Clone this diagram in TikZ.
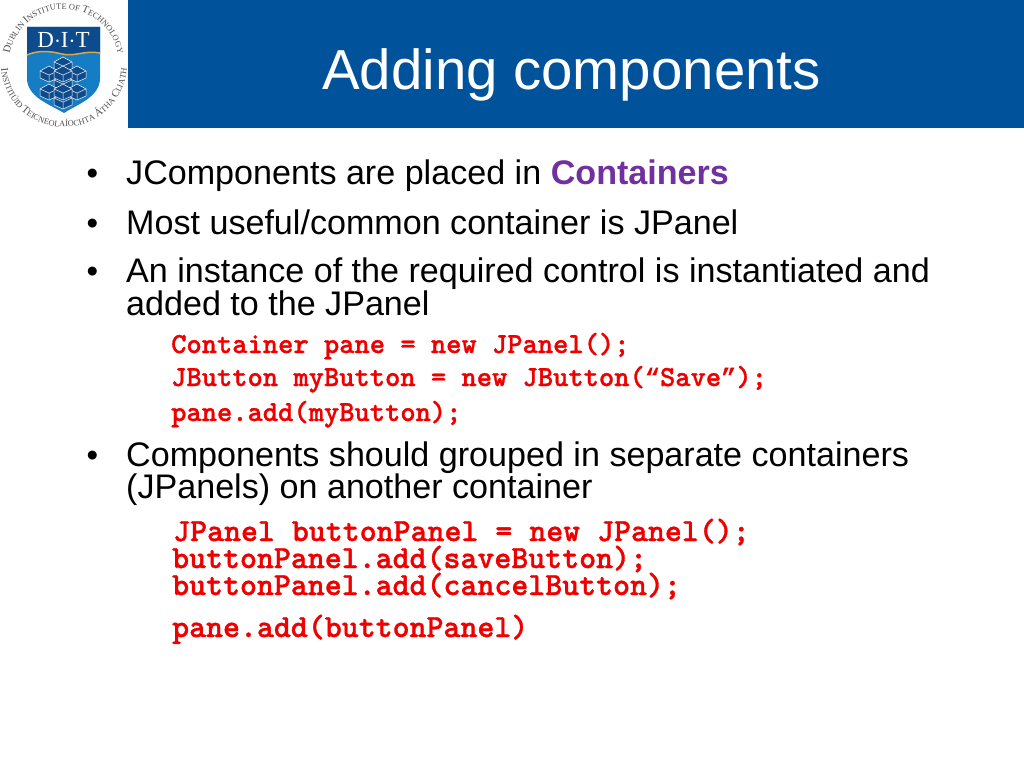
\documentclass[tikz,border=0pt]{standalone}
\usepackage{fontspec}
\setmainfont{Liberation Sans}
\newfontfamily\ringserif{Liberation Serif}
\newfontfamily\codefont{lmmonolt10-bold.otf}[FakeBold=1.1]
\newfontfamily\quotefont{Liberation Mono Bold}
\usepackage{xcolor}
\usetikzlibrary{calc,positioning,decorations.text}
\definecolor{barblue}{RGB}{0,83,155}
\definecolor{shielddark}{RGB}{14,75,140}
\definecolor{shieldlight}{RGB}{20,125,195}
\definecolor{goldline}{RGB}{214,170,80}
\definecolor{headword}{RGB}{112,48,160}
\definecolor{codered}{RGB}{238,0,0}
\newcommand{\ringfont}{\ringserif\fontsize{8.4}{8.4}\selectfont\color{black!70}}
\newcommand{\ringcap}{\ringserif\fontsize{10.5}{10.5}\selectfont\color{black!70}}
\tikzset{
  bullet/.style={anchor=base,inner sep=0pt,font=\fontsize{33}{33}\selectfont,text=black},
  body/.style={anchor=base west,inner sep=0pt,font=\fontsize{34.1}{34.1}\selectfont,text=black},
  code/.style={anchor=base west,inner sep=0pt,font=\codefont\fontsize{29.1}{29.1}\selectfont,text=codered},
  bigcode/.style={code,font=\codefont\fontsize{32.3}{32.3}\selectfont},
}
\begin{document}
\begin{tikzpicture}[x=1pt,y=-1pt]
  \useasboundingbox (0,0) rectangle (1024,768);
  \fill[barblue] (128,0) rectangle (1024,128);
  \node (title) at (322,89) [anchor=base west,inner sep=0pt,text=white,font=\fontsize{56.4}{56.4}\selectfont] {Adding components};
  % shield of the logo
  \fill[shieldlight] (27,27) -- (100,27) -- (100,78) .. controls (100,97) and (78,104) .. (64,113)
    .. controls (49,104) and (27,97) .. (27,78) -- cycle;
  \fill[shielddark] (27,27) -- (100,27) -- (100,53) .. controls (85,50) and (75,57) .. (62,54)
    .. controls (50,51) and (38,50) .. (27,55) -- cycle;
  \draw[goldline,line width=1.5pt] (27,55) .. controls (38,50) and (50,51) .. (62,54)
    .. controls (75,57) and (85,50) .. (100,53);
  \node (dit) at (63.5,47.5) [anchor=base,inner sep=0pt,text=white,font=\ringserif\fontsize{23}{23}\selectfont] {D$\cdot$I$\cdot$T};
  % blocks inside the shield
  \foreach \bx/\by in {63/66,49/75,77/75,63/84,49/93,77/93,63/102,63/75,63/93}{
    \fill[shielddark,draw=white,line width=.5pt] (\bx,\by-9) -- (\bx+9,\by-4) -- (\bx+9,\by+3) -- (\bx,\by+7)
      -- (\bx-9,\by+3) -- (\bx-9,\by-4) -- cycle;
    \draw[white,line width=.5pt] (\bx-9,\by-4) -- (\bx,\by) -- (\bx+9,\by-4) (\bx,\by) -- (\bx,\by+7);
  }
  % ring of text
  \path[postaction={decorate,decoration={text along path,text align=center,
      text={|\ringcap|D|\ringfont|UBLIN |\ringcap|I|\ringfont|NSTITUTE OF |\ringcap|T|\ringfont|ECHNOLOGY}}}]
    (9.5,71.7) arc[start angle=188,end angle=-8,radius=55pt];
  \path[postaction={decorate,decoration={text along path,text align=center,
      text={|\ringcap|I|\ringfont|NSTITIÚID |\ringcap|T|\ringfont|EICNEOLAÍOCHTA |\ringcap|Á|\ringfont|THA |\ringcap|C|\ringfont|LIATH}}}]
    (1.6,55.2) arc[start angle=172,end angle=368,radius=63pt];
  % first block of text
  \node (bulleta) at (92.5,184) [bullet] {•};
  \node (itema) at (126,184) [body] {JComponents are placed in \textcolor{headword}{\bfseries Containers}};
  \node (bulletb) at (92.5,234) [bullet] {•};
  \node (itemb) at (126,234) [body] {Most useful/common container is JPanel};
  \node (bulletc) at (92.5,282) [bullet] {•};
  \node (itemc) at (126,282) [body] {An instance of the required control is instantiated and};
  \node (itemcc) at (126,315) [body] {added to the JPanel};
  \node (codea) at (171,353) [code] {Container pane = new JPanel();};
  \node (codeb) at (171,386) [code] {JButton myButton = new JButton({\quotefont\fontsize{25.4}{25.4}\selectfont “}Save{\quotefont\fontsize{25.4}{25.4}\selectfont ”});};
  \node (codec) at (171,421) [code] {pane.add(myButton);};
  % second block of text
  \node (bulletd) at (92.5,466) [bullet] {•};
  \node (itemd) at (126,466) [body] {Components should grouped in separate containers};
  \node (itemdd) at (126,498) [body] {(JPanels) on another container};
  \node (coded) at (173,541) [bigcode] {JPanel buttonPanel = new JPanel();};
  \node (codee) at (172,568) [bigcode] {buttonPanel.add(saveButton);};
  \node (codef) at (172,595) [bigcode] {buttonPanel.add(cancelButton);};
  \node (codeg) at (172,637) [bigcode] {pane.add(buttonPanel)};
\end{tikzpicture}
\end{document}
